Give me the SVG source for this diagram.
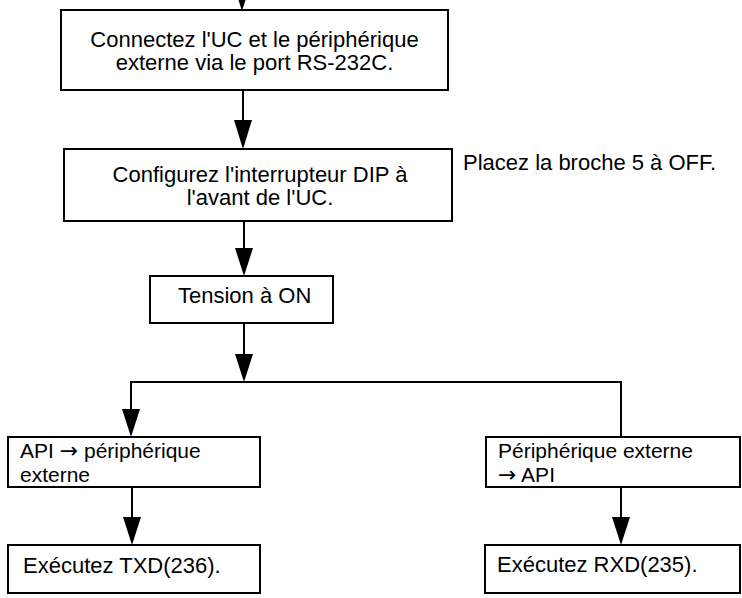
<svg xmlns="http://www.w3.org/2000/svg" width="742" height="598" viewBox="0 0 742 598">
<defs>
<style>
.box{fill:#fff;stroke:#000;stroke-width:2}
.ln{fill:none;stroke:#000;stroke-width:2}
.hd{fill:#000;stroke:none}
text{font-family:"Liberation Sans",Arial,Helvetica,sans-serif;font-size:22px;fill:#000}
.c{text-anchor:middle}
.s{font-size:21px}
.ar{font-family:"DejaVu Sans",sans-serif;font-size:22px}
</style>
</defs>
<rect width="742" height="598" fill="#fff"/>
<g id="connectors">
<polygon class="hd" points="233,-17 251,-17 242,11"/>
<line class="ln" x1="243" y1="90" x2="243" y2="122"/>
<polygon class="hd" points="234,120 252,120 243,149"/>
<line class="ln" x1="244" y1="221" x2="244" y2="250"/>
<polygon class="hd" points="235,248 253,248 244,276"/>
<line class="ln" x1="244" y1="323" x2="244" y2="356"/>
<polygon class="hd" points="235,354 253,354 244,382"/>
<polyline class="ln" points="131,412 131,382 621,382 621,437"/>
<polygon class="hd" points="122,409 140,409 131,437"/>
<line class="ln" x1="132" y1="487" x2="132" y2="519"/>
<polygon class="hd" points="123,517 141,517 132,545"/>
<line class="ln" x1="621" y1="487" x2="621" y2="519"/>
<polygon class="hd" points="612,517 630,517 621,545"/>
</g>
<g id="n1">
<rect class="box" x="61" y="10" width="387" height="80"/>
<text class="c" x="254.5" y="47">Connectez l'UC et le périphérique</text>
<text class="c" x="254.5" y="70">externe via le port RS-232C.</text>
</g>
<g id="n2">
<rect class="box" x="64" y="149" width="388" height="72"/>
<text class="c" x="260" y="182">Configurez l'interrupteur DIP à</text>
<text class="c" x="260" y="205">l'avant de l'UC.</text>
</g>
<g id="note">
<text x="463" y="170">Placez la broche 5 à OFF.</text>
</g>
<g id="n3">
<rect class="box" x="150" y="276" width="183" height="47"/>
<text x="178" y="303">Tension à ON</text>
</g>
<g id="n4">
<rect class="box" x="8" y="437" width="252" height="50"/>
<text class="s" x="20" y="458">API <tspan class="ar">→</tspan> périphérique</text>
<text class="s" x="20" y="482">externe</text>
</g>
<g id="n5">
<rect class="box" x="486" y="437" width="254" height="50"/>
<text class="s" x="498" y="458">Périphérique externe</text>
<text class="s" x="498" y="482"><tspan class="ar">→</tspan> API</text>
</g>
<g id="n6">
<rect class="box" x="8" y="545" width="252" height="48"/>
<text x="23" y="573">Exécutez TXD(236).</text>
</g>
<g id="n7">
<rect class="box" x="485" y="545" width="255" height="48"/>
<text x="497" y="572">Exécutez RXD(235).</text>
</g>
</svg>
